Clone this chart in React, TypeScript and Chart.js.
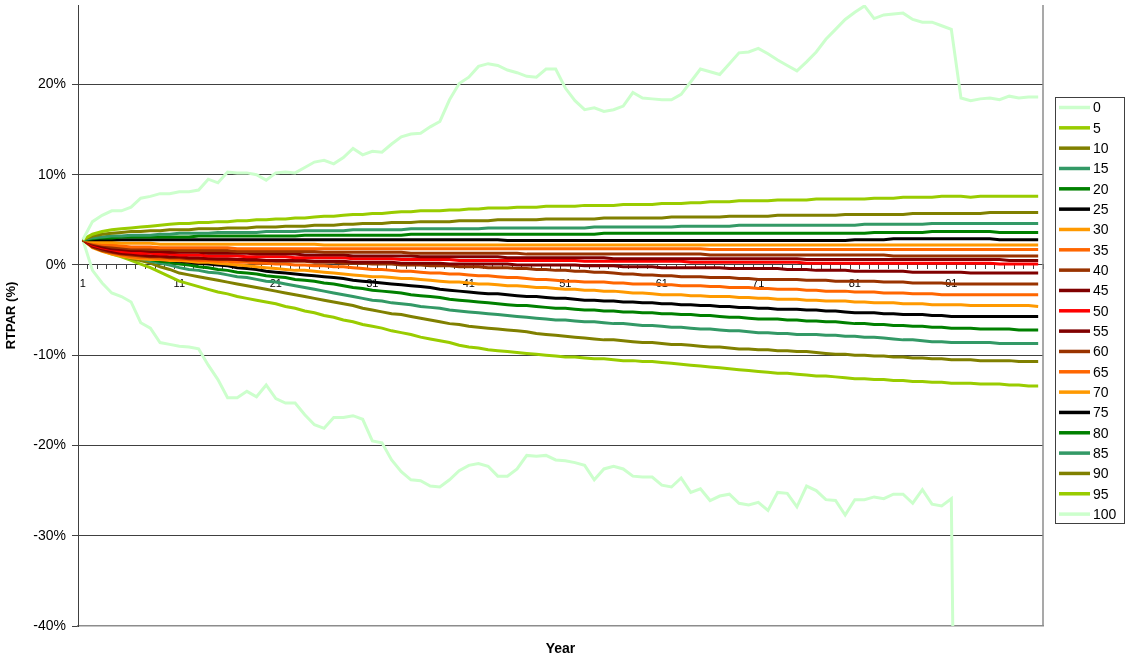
import React, { useEffect, useRef } from 'react';
import { Chart, registerables } from 'chart.js';

Chart.register(...registerables);

const FONT = '"Liberation Sans", Arial, sans-serif';

// Categories (years 1..100) and the labelled ones
const years: string[] = Array.from({ length: 100 }, (_, i) => String(i + 1));
const shownYearLabels = ['1', '11', '21', '31', '41', '51', '61', '71', '81', '91'];
const yTickValues = [-40, -30, -20, -10, 0, 10, 20];

const seriesNames = ['0', '5', '10', '15', '20', '25', '30', '35', '40', '45', '50', '55', '60', '65', '70', '75', '80', '85', '90', '95', '100'];
const seriesColors = [
  '#CCFFCC', '#99CC00', '#808000', '#339966', '#008000', '#000000', '#FF9900', '#FF6600', '#993300', '#800000',
  '#FF0000', '#800000', '#993300', '#FF6600', '#FF9900', '#000000', '#008000', '#339966', '#808000', '#99CC00', '#CCFFCC',
];

// RTPAR (%) by percentile
const p0 = [
  2.8, -0.6, -2.0, -3.1, -3.5, -4.1, -6.4, -7.0, -8.6, -8.8,
  -9.0, -9.1, -9.3, -11.1, -12.7, -14.7, -14.7, -14.0, -14.6, -13.3,
  -14.8, -15.3, -15.3, -16.6, -17.7, -18.1, -16.9, -16.9, -16.7, -17.1,
  -19.5, -19.7, -21.6, -22.9, -23.8, -23.9, -24.5, -24.6, -23.8, -22.8,
  -22.2, -22.0, -22.3, -23.4, -23.4, -22.6, -21.1, -21.2, -21.1, -21.6,
  -21.7, -21.9, -22.2, -23.8, -22.6, -22.3, -22.6, -23.4, -23.5, -23.5,
  -24.4, -24.6, -23.6, -25.2, -24.8, -26.1, -25.6, -25.4, -26.4, -26.6,
  -26.3, -27.2, -25.2, -25.3, -26.8, -24.5, -25.0, -26.0, -26.1, -27.7,
  -26.0, -26.0, -25.7, -25.9, -25.4, -25.4, -26.4, -24.9, -26.5, -26.7,
  -25.9, -120, -120, -120, -120, -120, -120, -120, -120, -120,
];
const p5 = [
  2.8, 2.1, 1.6, 1.2, 0.9, 0.5, 0.1, -0.3, -0.8, -1.3,
  -1.8, -2.1, -2.4, -2.7, -3.0, -3.2, -3.5, -3.7, -3.9, -4.1,
  -4.3, -4.6, -4.8, -5.1, -5.3, -5.6, -5.8, -6.1, -6.3, -6.6,
  -6.8, -7.0, -7.3, -7.5, -7.7, -8.0, -8.2, -8.4, -8.6, -8.9,
  -9.1, -9.2, -9.4, -9.5, -9.6, -9.7, -9.8, -9.9, -10.0, -10.1,
  -10.2, -10.2, -10.3, -10.4, -10.4, -10.5, -10.6, -10.6, -10.7, -10.7,
  -10.8, -10.9, -11.0, -11.1, -11.2, -11.3, -11.4, -11.5, -11.6, -11.7,
  -11.8, -11.9, -12.0, -12.0, -12.1, -12.2, -12.3, -12.3, -12.4, -12.5,
  -12.6, -12.6, -12.7, -12.7, -12.8, -12.8, -12.9, -12.9, -13.0, -13.0,
  -13.1, -13.1, -13.1, -13.2, -13.2, -13.2, -13.3, -13.3, -13.4, -13.4,
];
const p10 = [
  2.8, 2.2, 1.7, 1.3, 1.0, 0.7, 0.5, 0.2, -0.2, -0.5,
  -0.9, -1.1, -1.3, -1.5, -1.7, -1.9, -2.1, -2.3, -2.5, -2.7,
  -2.9, -3.1, -3.3, -3.5, -3.7, -3.9, -4.1, -4.3, -4.5, -4.8,
  -5.0, -5.2, -5.4, -5.5, -5.7, -5.9, -6.1, -6.3, -6.5, -6.6,
  -6.8, -6.9, -7.0, -7.1, -7.2, -7.3, -7.4, -7.6, -7.7, -7.8,
  -7.9, -8.0, -8.1, -8.2, -8.3, -8.3, -8.4, -8.5, -8.6, -8.6,
  -8.7, -8.8, -8.8, -8.9, -9.0, -9.1, -9.1, -9.2, -9.3, -9.3,
  -9.4, -9.4, -9.5, -9.5, -9.6, -9.6, -9.7, -9.8, -9.9, -9.9,
  -10.0, -10.0, -10.1, -10.1, -10.2, -10.2, -10.3, -10.3, -10.4, -10.4,
  -10.5, -10.5, -10.5, -10.6, -10.6, -10.6, -10.6, -10.7, -10.7, -10.7,
];
const p15 = [
  2.8, 2.2, 1.8, 1.4, 1.1, 0.9, 0.7, 0.4, 0.2, 0.0,
  -0.3, -0.5, -0.6, -0.8, -0.9, -1.1, -1.3, -1.4, -1.6, -1.8,
  -1.9, -2.1, -2.3, -2.5, -2.7, -2.9, -3.1, -3.3, -3.5, -3.7,
  -3.9, -4.0, -4.2, -4.3, -4.4, -4.6, -4.7, -4.8, -5.0, -5.1,
  -5.2, -5.3, -5.4, -5.5, -5.6, -5.7, -5.8, -5.9, -6.0, -6.1,
  -6.1, -6.2, -6.3, -6.3, -6.4, -6.5, -6.5, -6.6, -6.7, -6.7,
  -6.8, -6.9, -6.9, -7.0, -7.1, -7.1, -7.2, -7.3, -7.3, -7.4,
  -7.5, -7.5, -7.6, -7.6, -7.7, -7.7, -7.7, -7.8, -7.8, -7.9,
  -7.9, -8.0, -8.0, -8.1, -8.2, -8.3, -8.3, -8.4, -8.5, -8.5,
  -8.6, -8.6, -8.6, -8.6, -8.6, -8.7, -8.7, -8.7, -8.7, -8.7,
];
const p20 = [
  2.8, 2.3, 1.9, 1.5, 1.2, 1.0, 0.8, 0.6, 0.4, 0.3,
  0.1, 0.0, -0.2, -0.3, -0.5, -0.6, -0.8, -0.9, -1.0, -1.2,
  -1.3, -1.4, -1.6, -1.7, -1.8, -2.0, -2.1, -2.3, -2.5, -2.6,
  -2.8, -2.9, -3.0, -3.1, -3.3, -3.4, -3.5, -3.6, -3.8, -3.9,
  -4.0, -4.1, -4.2, -4.3, -4.4, -4.5, -4.5, -4.6, -4.7, -4.8,
  -4.8, -4.9, -5.0, -5.0, -5.1, -5.1, -5.2, -5.2, -5.3, -5.3,
  -5.4, -5.4, -5.5, -5.5, -5.6, -5.6, -5.7, -5.8, -5.8, -5.9,
  -6.0, -6.0, -6.0, -6.1, -6.1, -6.2, -6.2, -6.3, -6.3, -6.4,
  -6.5, -6.5, -6.6, -6.6, -6.7, -6.7, -6.8, -6.8, -6.9, -6.9,
  -7.0, -7.0, -7.0, -7.1, -7.1, -7.1, -7.1, -7.2, -7.2, -7.2,
];
const p25 = [
  2.8, 2.3, 1.9, 1.6, 1.3, 1.1, 0.9, 0.7, 0.6, 0.5,
  0.4, 0.3, 0.2, 0.1, 0.0, -0.1, -0.3, -0.4, -0.5, -0.7,
  -0.8, -0.9, -1.0, -1.1, -1.2, -1.3, -1.4, -1.5, -1.7, -1.8,
  -1.9, -2.0, -2.1, -2.2, -2.3, -2.4, -2.5, -2.7, -2.8, -2.9,
  -3.0, -3.1, -3.2, -3.2, -3.3, -3.4, -3.5, -3.5, -3.6, -3.7,
  -3.7, -3.8, -3.9, -3.9, -4.0, -4.0, -4.1, -4.1, -4.2, -4.2,
  -4.3, -4.3, -4.4, -4.4, -4.5, -4.5, -4.6, -4.6, -4.7, -4.7,
  -4.8, -4.8, -4.9, -4.9, -4.9, -5.0, -5.0, -5.1, -5.1, -5.2,
  -5.3, -5.3, -5.3, -5.4, -5.4, -5.5, -5.5, -5.5, -5.6, -5.6,
  -5.7, -5.7, -5.7, -5.7, -5.7, -5.7, -5.7, -5.7, -5.7, -5.7,
];
const p30 = [
  2.8, 1.9, 1.5, 1.2, 1.0, 0.8, 0.7, 0.6, 0.6, 0.5,
  0.5, 0.4, 0.3, 0.3, 0.2, 0.1, 0.0, -0.1, -0.2, -0.3,
  -0.4, -0.5, -0.6, -0.6, -0.7, -0.8, -0.9, -1.0, -1.1, -1.2,
  -1.3, -1.3, -1.4, -1.5, -1.5, -1.6, -1.7, -1.8, -1.9, -1.9,
  -2.0, -2.1, -2.1, -2.2, -2.3, -2.3, -2.4, -2.5, -2.5, -2.6,
  -2.7, -2.7, -2.8, -2.8, -2.9, -2.9, -3.0, -3.1, -3.1, -3.2,
  -3.3, -3.3, -3.3, -3.4, -3.4, -3.5, -3.5, -3.5, -3.6, -3.6,
  -3.7, -3.7, -3.8, -3.8, -3.8, -3.9, -3.9, -4.0, -4.0, -4.0,
  -4.1, -4.1, -4.2, -4.2, -4.2, -4.3, -4.3, -4.3, -4.4, -4.4,
  -4.4, -4.4, -4.5, -4.5, -4.5, -4.5, -4.5, -4.5, -4.5, -4.6,
];
const p35 = [
  2.8, 2.0, 1.6, 1.3, 1.1, 0.9, 0.8, 0.8, 0.7, 0.7,
  0.6, 0.6, 0.5, 0.5, 0.4, 0.4, 0.3, 0.3, 0.2, 0.2,
  0.1, 0.1, 0.0, 0.0, -0.1, -0.1, -0.2, -0.2, -0.3, -0.4,
  -0.5, -0.5, -0.6, -0.7, -0.7, -0.8, -0.9, -0.9, -1.0, -1.0,
  -1.1, -1.2, -1.2, -1.3, -1.4, -1.4, -1.5, -1.6, -1.6, -1.7,
  -1.8, -1.8, -1.9, -1.9, -1.9, -2.0, -2.0, -2.1, -2.1, -2.1,
  -2.2, -2.2, -2.3, -2.3, -2.3, -2.4, -2.4, -2.5, -2.5, -2.5,
  -2.6, -2.6, -2.7, -2.7, -2.7, -2.8, -2.8, -2.9, -2.9, -2.9,
  -3.0, -3.0, -3.0, -3.1, -3.1, -3.1, -3.2, -3.2, -3.2, -3.3,
  -3.3, -3.3, -3.3, -3.3, -3.3, -3.3, -3.3, -3.3, -3.3, -3.3,
];
const p40 = [
  2.8, 2.0, 1.6, 1.4, 1.2, 1.1, 1.0, 0.9, 0.9, 0.8,
  0.8, 0.7, 0.7, 0.7, 0.6, 0.6, 0.6, 0.5, 0.5, 0.5,
  0.4, 0.4, 0.4, 0.4, 0.3, 0.3, 0.3, 0.2, 0.2, 0.2,
  0.1, 0.1, 0.1, 0.0, 0.0, 0.0, -0.1, -0.1, -0.1, -0.2,
  -0.2, -0.2, -0.3, -0.3, -0.3, -0.4, -0.4, -0.5, -0.5, -0.6,
  -0.6, -0.7, -0.7, -0.8, -0.8, -0.9, -1.0, -1.0, -1.1, -1.1,
  -1.2, -1.2, -1.3, -1.3, -1.3, -1.4, -1.4, -1.4, -1.5, -1.5,
  -1.6, -1.6, -1.6, -1.6, -1.6, -1.7, -1.7, -1.7, -1.8, -1.8,
  -1.8, -1.8, -1.8, -1.9, -1.9, -1.9, -2.0, -2.0, -2.0, -2.0,
  -2.1, -2.1, -2.1, -2.1, -2.1, -2.1, -2.1, -2.1, -2.1, -2.1,
];
const p45 = [
  2.8, 2.1, 1.8, 1.5, 1.3, 1.2, 1.1, 1.0, 1.0, 0.9,
  0.9, 0.8, 0.8, 0.7, 0.7, 0.7, 0.6, 0.6, 0.6, 0.5,
  0.5, 0.5, 0.5, 0.5, 0.4, 0.4, 0.4, 0.4, 0.3, 0.3,
  0.3, 0.3, 0.3, 0.2, 0.2, 0.2, 0.2, 0.2, 0.1, 0.1,
  0.1, 0.1, 0.1, 0.1, 0.1, 0.0, 0.0, 0.0, 0.0, 0.0,
  0.0, 0.0, -0.1, -0.1, -0.1, -0.1, -0.2, -0.2, -0.2, -0.2,
  -0.3, -0.3, -0.3, -0.3, -0.3, -0.3, -0.3, -0.4, -0.4, -0.4,
  -0.4, -0.4, -0.4, -0.5, -0.5, -0.5, -0.6, -0.6, -0.6, -0.6,
  -0.7, -0.7, -0.7, -0.7, -0.7, -0.7, -0.8, -0.8, -0.8, -0.8,
  -0.8, -0.8, -0.9, -0.9, -0.9, -0.9, -0.9, -0.9, -0.9, -0.9,
];
const p50 = [
  2.8, 2.2, 1.9, 1.7, 1.5, 1.4, 1.3, 1.3, 1.2, 1.2,
  1.1, 1.1, 1.1, 1.0, 1.0, 1.0, 1.0, 0.9, 0.9, 0.9,
  0.9, 0.9, 0.8, 0.8, 0.8, 0.8, 0.8, 0.8, 0.7, 0.7,
  0.7, 0.7, 0.7, 0.6, 0.6, 0.6, 0.6, 0.6, 0.6, 0.5,
  0.5, 0.5, 0.5, 0.5, 0.5, 0.5, 0.5, 0.5, 0.5, 0.5,
  0.5, 0.5, 0.4, 0.4, 0.4, 0.4, 0.4, 0.4, 0.4, 0.4,
  0.4, 0.4, 0.4, 0.3, 0.3, 0.3, 0.3, 0.3, 0.3, 0.3,
  0.3, 0.3, 0.3, 0.3, 0.3, 0.2, 0.2, 0.2, 0.2, 0.2,
  0.2, 0.2, 0.2, 0.2, 0.2, 0.2, 0.2, 0.2, 0.2, 0.2,
  0.2, 0.2, 0.2, 0.2, 0.2, 0.1, 0.1, 0.1, 0.1, 0.1,
];
const p55 = [
  2.8, 2.3, 2.0, 1.8, 1.7, 1.6, 1.6, 1.5, 1.5, 1.4,
  1.4, 1.4, 1.4, 1.3, 1.3, 1.3, 1.3, 1.3, 1.2, 1.2,
  1.2, 1.2, 1.2, 1.1, 1.1, 1.1, 1.1, 1.1, 1.0, 1.0,
  1.0, 1.0, 1.0, 1.0, 1.0, 0.9, 0.9, 0.9, 0.9, 0.9,
  0.9, 0.9, 0.9, 0.9, 0.8, 0.8, 0.8, 0.8, 0.8, 0.8,
  0.8, 0.8, 0.8, 0.8, 0.8, 0.7, 0.7, 0.7, 0.7, 0.7,
  0.7, 0.7, 0.7, 0.7, 0.7, 0.7, 0.7, 0.7, 0.7, 0.7,
  0.7, 0.7, 0.7, 0.7, 0.7, 0.6, 0.6, 0.6, 0.6, 0.6,
  0.6, 0.6, 0.6, 0.6, 0.6, 0.6, 0.6, 0.6, 0.6, 0.6,
  0.6, 0.6, 0.6, 0.6, 0.6, 0.6, 0.5, 0.5, 0.5, 0.5,
];
const p60 = [
  2.8, 2.4, 2.2, 2.0, 1.9, 1.8, 1.8, 1.7, 1.7, 1.7,
  1.6, 1.6, 1.6, 1.6, 1.6, 1.6, 1.5, 1.5, 1.5, 1.5,
  1.5, 1.5, 1.5, 1.5, 1.5, 1.4, 1.4, 1.4, 1.4, 1.4,
  1.4, 1.4, 1.4, 1.4, 1.3, 1.3, 1.3, 1.3, 1.3, 1.3,
  1.3, 1.3, 1.3, 1.3, 1.3, 1.3, 1.2, 1.2, 1.2, 1.2,
  1.2, 1.2, 1.2, 1.2, 1.2, 1.2, 1.2, 1.2, 1.2, 1.2,
  1.2, 1.2, 1.2, 1.2, 1.2, 1.1, 1.1, 1.1, 1.1, 1.1,
  1.1, 1.1, 1.1, 1.1, 1.1, 1.1, 1.1, 1.1, 1.1, 1.1,
  1.1, 1.1, 1.1, 1.1, 1.0, 1.0, 1.0, 1.0, 1.0, 1.0,
  1.0, 1.0, 1.0, 1.0, 1.0, 1.0, 1.0, 1.0, 1.0, 1.0,
];
const p65 = [
  2.8, 2.5, 2.3, 2.2, 2.1, 2.0, 2.0, 2.0, 1.9, 1.9,
  1.9, 1.9, 1.9, 1.9, 1.9, 1.9, 1.8, 1.8, 1.8, 1.8,
  1.8, 1.8, 1.8, 1.8, 1.8, 1.8, 1.8, 1.8, 1.8, 1.8,
  1.8, 1.8, 1.8, 1.8, 1.8, 1.8, 1.8, 1.8, 1.8, 1.8,
  1.8, 1.8, 1.8, 1.8, 1.8, 1.8, 1.8, 1.8, 1.8, 1.8,
  1.8, 1.8, 1.8, 1.8, 1.8, 1.8, 1.8, 1.8, 1.8, 1.8,
  1.8, 1.8, 1.8, 1.8, 1.8, 1.7, 1.7, 1.7, 1.7, 1.7,
  1.7, 1.7, 1.7, 1.7, 1.7, 1.7, 1.7, 1.7, 1.7, 1.7,
  1.7, 1.7, 1.7, 1.7, 1.7, 1.7, 1.7, 1.7, 1.7, 1.7,
  1.7, 1.7, 1.7, 1.7, 1.7, 1.7, 1.7, 1.7, 1.7, 1.7,
];
const p70 = [
  2.8, 2.6, 2.5, 2.5, 2.4, 2.4, 2.4, 2.4, 2.3, 2.3,
  2.3, 2.3, 2.3, 2.3, 2.3, 2.3, 2.3, 2.3, 2.3, 2.3,
  2.3, 2.3, 2.3, 2.3, 2.3, 2.2, 2.2, 2.2, 2.2, 2.2,
  2.2, 2.2, 2.2, 2.2, 2.2, 2.2, 2.2, 2.2, 2.2, 2.2,
  2.2, 2.2, 2.2, 2.2, 2.2, 2.2, 2.2, 2.2, 2.2, 2.2,
  2.2, 2.2, 2.2, 2.2, 2.2, 2.2, 2.2, 2.2, 2.2, 2.2,
  2.2, 2.2, 2.2, 2.2, 2.2, 2.2, 2.2, 2.2, 2.2, 2.2,
  2.2, 2.2, 2.2, 2.2, 2.2, 2.2, 2.2, 2.2, 2.2, 2.2,
  2.2, 2.2, 2.2, 2.2, 2.2, 2.2, 2.2, 2.2, 2.2, 2.2,
  2.2, 2.2, 2.2, 2.2, 2.2, 2.2, 2.2, 2.2, 2.2, 2.2,
];
const p75 = [
  2.8, 2.8, 2.8, 2.8, 2.8, 2.8, 2.8, 2.8, 2.8, 2.8,
  2.8, 2.8, 2.8, 2.8, 2.8, 2.8, 2.8, 2.8, 2.8, 2.8,
  2.8, 2.8, 2.8, 2.8, 2.8, 2.8, 2.8, 2.8, 2.8, 2.8,
  2.8, 2.8, 2.8, 2.8, 2.8, 2.8, 2.8, 2.8, 2.8, 2.8,
  2.8, 2.8, 2.8, 2.8, 2.7, 2.7, 2.7, 2.7, 2.7, 2.7,
  2.7, 2.7, 2.7, 2.7, 2.7, 2.7, 2.7, 2.7, 2.7, 2.7,
  2.7, 2.7, 2.7, 2.7, 2.7, 2.7, 2.7, 2.7, 2.7, 2.7,
  2.7, 2.7, 2.7, 2.7, 2.7, 2.7, 2.7, 2.7, 2.7, 2.7,
  2.8, 2.8, 2.8, 2.8, 2.9, 2.9, 2.9, 2.9, 2.9, 2.9,
  2.9, 2.9, 2.9, 2.9, 2.9, 2.8, 2.8, 2.8, 2.8, 2.8,
];
const p80 = [
  2.8, 2.9, 3.0, 3.0, 3.1, 3.1, 3.1, 3.1, 3.1, 3.1,
  3.1, 3.1, 3.2, 3.2, 3.2, 3.2, 3.2, 3.2, 3.2, 3.2,
  3.2, 3.2, 3.2, 3.3, 3.3, 3.3, 3.3, 3.3, 3.3, 3.3,
  3.3, 3.3, 3.3, 3.3, 3.4, 3.4, 3.4, 3.4, 3.4, 3.4,
  3.4, 3.4, 3.4, 3.4, 3.4, 3.4, 3.4, 3.4, 3.4, 3.4,
  3.4, 3.4, 3.4, 3.4, 3.5, 3.5, 3.5, 3.5, 3.5, 3.5,
  3.5, 3.5, 3.5, 3.5, 3.5, 3.5, 3.5, 3.5, 3.5, 3.5,
  3.5, 3.5, 3.5, 3.5, 3.5, 3.5, 3.5, 3.5, 3.5, 3.5,
  3.5, 3.5, 3.6, 3.6, 3.6, 3.6, 3.6, 3.6, 3.7, 3.7,
  3.7, 3.7, 3.7, 3.7, 3.7, 3.6, 3.6, 3.6, 3.6, 3.6,
];
const p85 = [
  2.8, 3.0, 3.1, 3.2, 3.2, 3.3, 3.3, 3.3, 3.4, 3.4,
  3.5, 3.5, 3.5, 3.5, 3.6, 3.6, 3.6, 3.6, 3.6, 3.7,
  3.7, 3.7, 3.7, 3.8, 3.8, 3.8, 3.8, 3.8, 3.9, 3.9,
  3.9, 3.9, 3.9, 3.9, 4.0, 4.0, 4.0, 4.0, 4.0, 4.0,
  4.0, 4.0, 4.1, 4.1, 4.1, 4.1, 4.1, 4.1, 4.1, 4.1,
  4.1, 4.1, 4.1, 4.2, 4.2, 4.2, 4.2, 4.2, 4.2, 4.2,
  4.2, 4.2, 4.3, 4.3, 4.3, 4.3, 4.3, 4.3, 4.4, 4.4,
  4.4, 4.4, 4.4, 4.4, 4.4, 4.4, 4.4, 4.4, 4.4, 4.4,
  4.4, 4.5, 4.5, 4.5, 4.5, 4.5, 4.5, 4.5, 4.6, 4.6,
  4.6, 4.6, 4.6, 4.6, 4.6, 4.6, 4.6, 4.6, 4.6, 4.6,
];
const p90 = [
  2.8, 3.2, 3.4, 3.5, 3.6, 3.7, 3.7, 3.8, 3.8, 3.9,
  3.9, 3.9, 4.0, 4.0, 4.0, 4.1, 4.1, 4.1, 4.2, 4.2,
  4.2, 4.3, 4.3, 4.3, 4.4, 4.4, 4.4, 4.5, 4.5, 4.6,
  4.6, 4.6, 4.7, 4.7, 4.7, 4.8, 4.8, 4.8, 4.8, 4.9,
  4.9, 4.9, 4.9, 5.0, 5.0, 5.0, 5.0, 5.0, 5.1, 5.1,
  5.1, 5.1, 5.1, 5.1, 5.2, 5.2, 5.2, 5.2, 5.2, 5.2,
  5.2, 5.3, 5.3, 5.3, 5.3, 5.3, 5.3, 5.4, 5.4, 5.4,
  5.4, 5.4, 5.5, 5.5, 5.5, 5.5, 5.5, 5.5, 5.5, 5.6,
  5.6, 5.6, 5.6, 5.6, 5.6, 5.6, 5.7, 5.7, 5.7, 5.7,
  5.7, 5.7, 5.7, 5.7, 5.8, 5.8, 5.8, 5.8, 5.8, 5.8,
];
const p95 = [
  2.8, 3.4, 3.7, 3.9, 4.0, 4.1, 4.2, 4.3, 4.4, 4.5,
  4.6, 4.6, 4.7, 4.7, 4.8, 4.8, 4.9, 4.9, 5.0, 5.0,
  5.1, 5.1, 5.2, 5.2, 5.3, 5.4, 5.4, 5.5, 5.6, 5.6,
  5.7, 5.7, 5.8, 5.9, 5.9, 6.0, 6.0, 6.0, 6.1, 6.1,
  6.2, 6.2, 6.3, 6.3, 6.3, 6.4, 6.4, 6.4, 6.5, 6.5,
  6.5, 6.5, 6.6, 6.6, 6.6, 6.6, 6.7, 6.7, 6.7, 6.7,
  6.8, 6.8, 6.8, 6.9, 6.9, 7.0, 7.0, 7.0, 7.1, 7.1,
  7.1, 7.1, 7.2, 7.2, 7.2, 7.2, 7.3, 7.3, 7.3, 7.3,
  7.3, 7.3, 7.4, 7.4, 7.4, 7.5, 7.5, 7.5, 7.5, 7.6,
  7.6, 7.6, 7.5, 7.6, 7.6, 7.6, 7.6, 7.6, 7.6, 7.6,
];
const p100 = [
  2.8, 4.8, 5.5, 6.0, 6.0, 6.4, 7.4, 7.6, 7.9, 7.9,
  8.1, 8.1, 8.3, 9.5, 9.1, 10.3, 10.2, 10.2, 10.0, 9.4,
  10.2, 10.3, 10.2, 10.8, 11.4, 11.6, 11.2, 11.9, 12.9, 12.2,
  12.6, 12.5, 13.4, 14.2, 14.5, 14.6, 15.3, 15.9, 18.3, 20.1,
  20.8, 22.0, 22.3, 22.1, 21.6, 21.3, 20.9, 20.8, 21.7, 21.7,
  19.6, 18.2, 17.2, 17.4, 17.0, 17.2, 17.6, 19.1, 18.5, 18.4,
  18.3, 18.3, 18.9, 20.3, 21.7, 21.4, 21.1, 22.3, 23.5, 23.6,
  24.0, 23.4, 22.7, 22.1, 21.5, 22.5, 23.6, 25.0, 26.1, 27.2,
  28.0, 28.7, 27.3, 27.7, 27.8, 27.9, 27.2, 26.9, 26.9, 26.5,
  26.1, 18.5, 18.2, 18.4, 18.5, 18.3, 18.7, 18.5, 18.6, 18.6,
];

const seriesValues = [p0, p5, p10, p15, p20, p25, p30, p35, p40, p45, p50, p55, p60, p65, p70, p75, p80, p85, p90, p95, p100];

const framePlugin = {
  id: 'frameAndLegend',
  afterDraw(chart: any) {
    const { ctx, chartArea: a } = chart;
    ctx.save();
    // right border of plot area
    ctx.strokeStyle = '#8c8c8c';
    ctx.lineWidth = 1.5;
    ctx.beginPath();
    ctx.moveTo(a.right, a.top);
    ctx.lineTo(a.right, a.bottom);
    ctx.stroke();

    // legend
    const lx = a.right + 12;
    const ly = 97.5;
    const step = 20.33;
    ctx.strokeStyle = '#404040';
    ctx.lineWidth = 1;
    ctx.strokeRect(Math.round(lx) + 0.5, ly, 69, 426);
    ctx.font = `14px ${FONT}`;
    ctx.textBaseline = 'middle';
    ctx.textAlign = 'left';
    seriesNames.forEach((name, k) => {
      const y = ly + 10 + k * step;
      ctx.strokeStyle = seriesColors[k];
      ctx.lineWidth = 3.5;
      ctx.beginPath();
      ctx.moveTo(lx + 4, y);
      ctx.lineTo(lx + 35, y);
      ctx.stroke();
      ctx.fillStyle = '#000';
      ctx.fillText(name, lx + 38, y + 1);
    });
    ctx.restore();
  },
};

export default function App() {
  const canvasRef = useRef<HTMLCanvasElement | null>(null);

  useEffect(() => {
    if (!canvasRef.current) return;
    const datasets = seriesValues.map((vals, k) => ({
      label: seriesNames[k],
      data: vals,
      borderColor: seriesColors[k],
      backgroundColor: seriesColors[k],
      borderWidth: 3,
      pointRadius: 0,
      tension: 0,
      fill: false,
      order: seriesValues.length - k,
    }));

    const chart = new Chart(canvasRef.current, {
      type: 'line',
      data: { labels: years, datasets },
      options: {
        animation: false,
        responsive: false,
        events: [],
        layout: { padding: { top: 5, right: 83, bottom: 0, left: 0 } },
        plugins: {
          legend: { display: false },
          tooltip: { enabled: false },
        },
        scales: {
          x: {
            type: 'category',
            position: { y: 0 } as any,
            offset: true,
            grid: { offset: true, drawOnChartArea: false, drawTicks: true, tickLength: 4, color: '#404040' },
            border: { display: true, color: '#404040', width: 1 },
            ticks: {
              autoSkip: false,
              maxRotation: 0,
              minRotation: 0,
              padding: 8,
              color: '#000',
              font: { size: 11, family: FONT },
              callback: (_v: any, i: number) => (shownYearLabels.includes(years[i]) ? years[i] : ''),
            },
            afterFit: (s: any) => { s.paddingLeft = 0; s.paddingRight = 0; },
          },
          x2: {
            type: 'category',
            position: 'bottom',
            offset: true,
            grid: { display: false },
            ticks: { display: false },
            border: { display: true, color: '#8c8c8c', width: 1.5 },
            title: {
              display: true,
              text: 'Year',
              color: '#000',
              font: { size: 14, weight: 'bold', family: FONT },
              padding: { top: 0, bottom: 0 },
            },
            afterFit: (s: any) => { s.height = 32; s.paddingLeft = 0; s.paddingRight = 0; },
          },
          y: {
            min: -40,
            max: 28.8,
            afterBuildTicks: (s: any) => { s.ticks = yTickValues.map((v) => ({ value: v })); },
            grid: {
              color: (c: any) => (c.tick && c.tick.value === -40 ? 'rgba(0,0,0,0)' : '#404040'),
              tickColor: '#404040',
              tickLength: 6,
              drawTicks: true,
            },
            border: { display: true, color: '#404040', width: 1 },
            ticks: {
              padding: 6,
              color: '#000',
              font: { size: 14, family: FONT },
              callback: (v: any) => `${v}%`,
            },
            title: {
              display: true,
              text: 'RTPAR (%)',
              color: '#000',
              font: { size: 13, weight: 'bold', family: FONT },
              padding: { top: 4, bottom: 0 },
            },
            afterFit: (s: any) => { s.width = 78; s.paddingTop = 0; s.paddingBottom = 0; },
          },
        },
      } as any,
      plugins: [framePlugin],
    });
    return () => chart.destroy();
  }, []);

  return (
    <div style={{ position: 'fixed', left: 0, top: 0, width: 1126, height: 658, background: '#fff' }}>
      <canvas ref={canvasRef} width={1126} height={658} />
    </div>
  );
}
